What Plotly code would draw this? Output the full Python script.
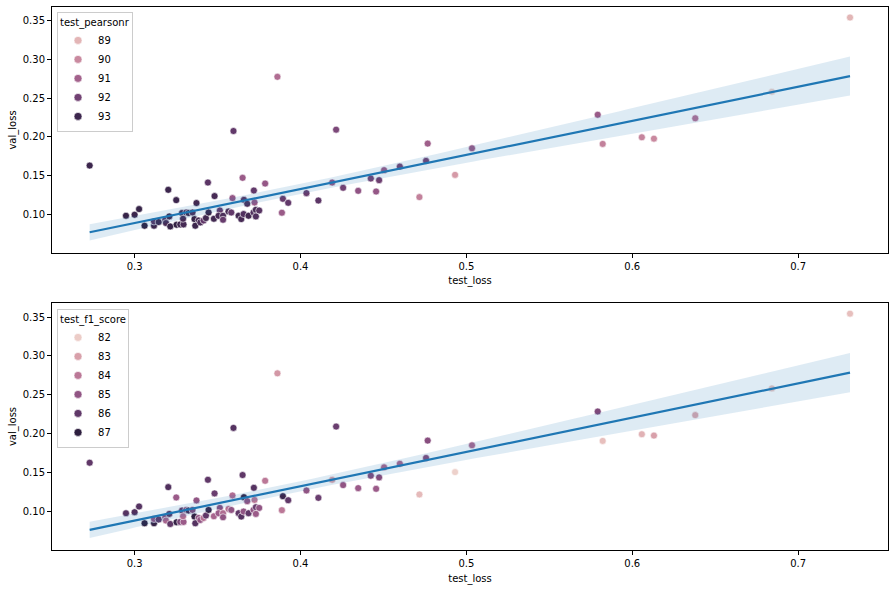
import numpy as np
import plotly.graph_objects as go

# ---- data ----
test_loss = [0.2729, 0.2948, 0.3000, 0.3027, 0.3060, 0.3117, 0.3117, 0.3145, 0.3203, 0.3251,
             0.3185, 0.3209, 0.3189, 0.3215, 0.3253, 0.3275, 0.3295, 0.3286, 0.3311, 0.3292,
             0.3325, 0.3349, 0.3361, 0.3386, 0.3366, 0.3396, 0.3416, 0.3430, 0.3446, 0.3373,
             0.3442, 0.3482, 0.3478, 0.3514, 0.3506, 0.3533, 0.3533, 0.3566, 0.3583, 0.3627,
             0.3643, 0.3657, 0.3687, 0.3717, 0.3731, 0.3751, 0.3731, 0.3651, 0.3787, 0.3719,
             0.3590, 0.3659, 0.3679, 0.3723, 0.3894, 0.3926, 0.3888, 0.4036, 0.4108, 0.4191,
             0.4257, 0.4348, 0.4424, 0.4456, 0.4474, 0.4504, 0.4599, 0.4717, 0.4757, 0.4767,
             0.4932, 0.5034, 0.5792, 0.5822, 0.6058, 0.6131, 0.6380, 0.6842, 0.7313, 0.3861,
             0.3596, 0.4215]
val_loss = [0.1630, 0.0982, 0.0995, 0.1068, 0.0853, 0.0853, 0.0908, 0.0901, 0.1317, 0.1184,
            0.0930, 0.0973, 0.0888, 0.0844, 0.0866, 0.0870, 0.0870, 0.1017, 0.1024, 0.0943,
            0.1017, 0.1024, 0.0939, 0.0921, 0.0853, 0.0896, 0.0921, 0.0952, 0.1024, 0.1146,
            0.1411, 0.1236, 0.0943, 0.1050, 0.0982, 0.0982, 0.0930, 0.1037, 0.1024, 0.0982,
            0.0939, 0.1004, 0.0982, 0.1024, 0.1059, 0.1050, 0.0973, 0.1472, 0.1398, 0.1308,
            0.1210, 0.1188, 0.1137, 0.1153, 0.1201, 0.1149, 0.1021, 0.1274, 0.1179, 0.1411,
            0.1343, 0.1304, 0.1463, 0.1295, 0.1442, 0.1571, 0.1617, 0.1223, 0.1691, 0.1914,
            0.1510, 0.1854, 0.2287, 0.1910, 0.1996, 0.1978, 0.2241, 0.2584, 0.3543, 0.2777,
            0.2077, 0.2094]
test_pearsonr = [93.0, 93.1, 93.0, 93.1, 93.3, 93.0, 92.5, 93.0, 93.0, 93.0,
                 92.5, 93.0, 92.8, 93.1, 93.2, 93.0, 92.8, 93.0, 92.5, 92.8,
                 93.0, 92.7, 93.1, 92.8, 93.0, 92.7, 92.3, 92.9, 93.1, 92.9,
                 92.4, 92.8, 92.9, 92.3, 92.8, 92.7, 92.2, 92.8, 92.3, 92.9,
                 92.8, 92.6, 92.9, 92.6, 92.8, 92.5, 92.6, 91.2, 91.3, 92.3,
                 91.3, 92.5, 92.7, 91.3, 92.2, 92.3, 91.2, 92.2, 92.4, 91.3,
                 92.0, 91.4, 92.0, 91.3, 92.1, 91.2, 92.0, 90.2, 92.0, 91.1,
                 89.6, 91.2, 91.2, 90.2, 90.1, 90.0, 90.6, 88.4, 89.0, 90.7,
                 92.3, 91.8]
test_f1_score = [86.0, 86.2, 86.3, 86.2, 87.0, 86.8, 85.0, 86.0, 86.3, 84.8,
                 85.2, 86.2, 84.5, 86.0, 86.8, 85.5, 84.8, 86.0, 85.0, 84.3,
                 86.5, 85.3, 86.9, 85.0, 86.2, 85.0, 84.2, 86.0, 86.8, 85.0,
                 86.0, 85.8, 84.5, 85.2, 84.8, 84.3, 85.0, 84.2, 85.0, 86.0,
                 86.2, 85.0, 86.0, 85.0, 85.8, 85.0, 84.8, 86.0, 84.0, 86.2,
                 84.3, 86.9, 85.0, 84.0, 86.7, 86.0, 84.0, 85.0, 85.8, 83.0,
                 85.0, 84.8, 85.3, 84.8, 85.3, 84.5, 84.5, 82.4, 85.3, 85.2,
                 81.9, 84.4, 85.4, 82.3, 82.6, 83.0, 82.8, 82.2, 82.3, 83.2,
                 86.2, 85.8]
pearsonr_levels = [89, 90, 91, 92, 93]
f1_levels = [82, 83, 84, 85, 86, 87]
x_ticks = [0.3, 0.4, 0.5, 0.6, 0.7]
y_ticks = [0.10, 0.15, 0.20, 0.25, 0.30, 0.35]


# ---- seaborn-like cubehelix colormap ("ch:") ----
def cubehelix(t, start=0.0, rot=0.4, gamma=1.0, hue=0.8, light=0.85, dark=0.15):
    t = np.clip(np.asarray(t, dtype=float), 0, 1)
    x = light + (dark - light) * t
    xg = x ** gamma
    a = hue * xg * (1 - xg) / 2
    phi = 2 * np.pi * (start / 3 + rot * x)
    r = xg + a * (-0.14861 * np.cos(phi) + 1.78277 * np.sin(phi))
    g = xg + a * (-0.29227 * np.cos(phi) - 0.90649 * np.sin(phi))
    b = xg + a * (1.97294 * np.cos(phi))
    return np.clip(np.stack([r, g, b], axis=-1), 0, 1)


def to_css(c):
    return "rgb(%d,%d,%d)" % tuple(int(round(v * 255)) for v in c)


stops = np.linspace(0, 1, 41)
colorscale = [[float(s), to_css(c)] for s, c in zip(stops, cubehelix(stops))]

X = np.array(test_loss)
Y = np.array(val_loss)

# linear regression with 95% confidence band
n = len(X)
slope, intercept = np.polyfit(X, Y, 1)
xg = np.linspace(X.min(), X.max(), 100)
yg = intercept + slope * xg
resid = Y - (intercept + slope * X)
s_err = np.sqrt(np.sum(resid ** 2) / (n - 2))
xm = X.mean()
sxx = np.sum((X - xm) ** 2)
tval = 1.99
ci = tval * s_err * np.sqrt(1.0 / n + (xg - xm) ** 2 / sxx)

fig = go.Figure()

font_family = "DejaVu Sans"
panels = [
    (test_pearsonr, pearsonr_levels, "test_pearsonr", "x", "y", "legend"),
    (test_f1_score, f1_levels, "test_f1_score", "x2", "y2", "legend2"),
]

for hue, levels, title, xa, ya, leg in panels:
    hmin, hmax = min(hue), max(hue)
    fig.add_trace(go.Scatter(
        x=test_loss, y=val_loss, mode="markers", xaxis=xa, yaxis=ya,
        showlegend=False, hoverinfo="skip",
        marker=dict(size=7, color=hue, colorscale=colorscale, cmin=hmin, cmax=hmax,
                    showscale=False, line=dict(color="white", width=0.6)),
    ))
    # CI band
    fig.add_trace(go.Scatter(
        x=np.concatenate([xg, xg[::-1]]), y=np.concatenate([yg + ci, (yg - ci)[::-1]]),
        mode="lines", fill="toself", fillcolor="rgba(31,119,180,0.15)",
        line=dict(width=0), xaxis=xa, yaxis=ya, showlegend=False, hoverinfo="skip",
    ))
    fig.add_trace(go.Scatter(
        x=xg, y=yg, mode="lines", line=dict(color="#1f77b4", width=2.2),
        xaxis=xa, yaxis=ya, showlegend=False, hoverinfo="skip",
    ))
    # legend entries
    for lv in levels:
        col = to_css(cubehelix((lv - hmin) / (hmax - hmin)))
        fig.add_trace(go.Scatter(
            x=[None], y=[None], mode="markers", name=str(lv), xaxis=xa, yaxis=ya,
            marker=dict(size=8, color=col, line=dict(color="white", width=0.6)),
            legend=leg, showlegend=True,
        ))

axis_common = dict(
    showline=True, linecolor="black", linewidth=1, mirror=True,
    ticks="outside", ticklen=4, tickcolor="black", tickwidth=1,
    showgrid=False, zeroline=False, automargin=False,
    tickfont=dict(family=font_family, size=10, color="black"),
)

xrange_ = [0.2502, 0.7542]
fig.update_layout(
    width=895, height=589,
    margin=dict(l=52, r=7, t=7, b=39, autoexpand=False),
    paper_bgcolor="white", plot_bgcolor="white",
    font=dict(family=font_family, size=10, color="black"),
    xaxis=dict(domain=[0, 1], range=xrange_, tickvals=x_ticks, anchor="y",
               title=dict(text="test_loss", standoff=6, font=dict(size=10)), **axis_common),
    yaxis=dict(domain=[0.547, 1], range=[0.0501, 0.3679], tickvals=y_ticks, tickformat=".2f",
               anchor="x", title=dict(text="val_loss", standoff=4, font=dict(size=10)), **axis_common),
    xaxis2=dict(domain=[0, 1], range=xrange_, tickvals=x_ticks, anchor="y2",
                title=dict(text="test_loss", standoff=6, font=dict(size=10)), **axis_common),
    yaxis2=dict(domain=[0, 0.4549], range=[0.051, 0.368], tickvals=y_ticks, tickformat=".2f",
                anchor="x2", title=dict(text="val_loss", standoff=4, font=dict(size=10)), **axis_common),
    legend=dict(x=0.006, y=0.991, xanchor="left", yanchor="top",
                bgcolor="rgba(255,255,255,0.8)", bordercolor="#cccccc", borderwidth=1,
                title=dict(text="test_pearsonr", font=dict(size=10)),
                font=dict(size=10), tracegroupgap=0, itemwidth=30),
    legend2=dict(x=0.006, y=0.444, xanchor="left", yanchor="top",
                 bgcolor="rgba(255,255,255,0.8)", bordercolor="#cccccc", borderwidth=1,
                 title=dict(text="test_f1_score", font=dict(size=10)),
                 font=dict(size=10), tracegroupgap=0, itemwidth=30),
)

fig.write_html("out.html", config={"responsive": False, "displayModeBar": False})

# remove the browser's default body margin so the figure sits at the page origin
with open("out.html", "r", encoding="utf-8") as f:
    html = f.read()
html = html.replace("<body>", '<body style="margin:0;padding:0;overflow:hidden">', 1)
with open("out.html", "w", encoding="utf-8") as f:
    f.write(html)
